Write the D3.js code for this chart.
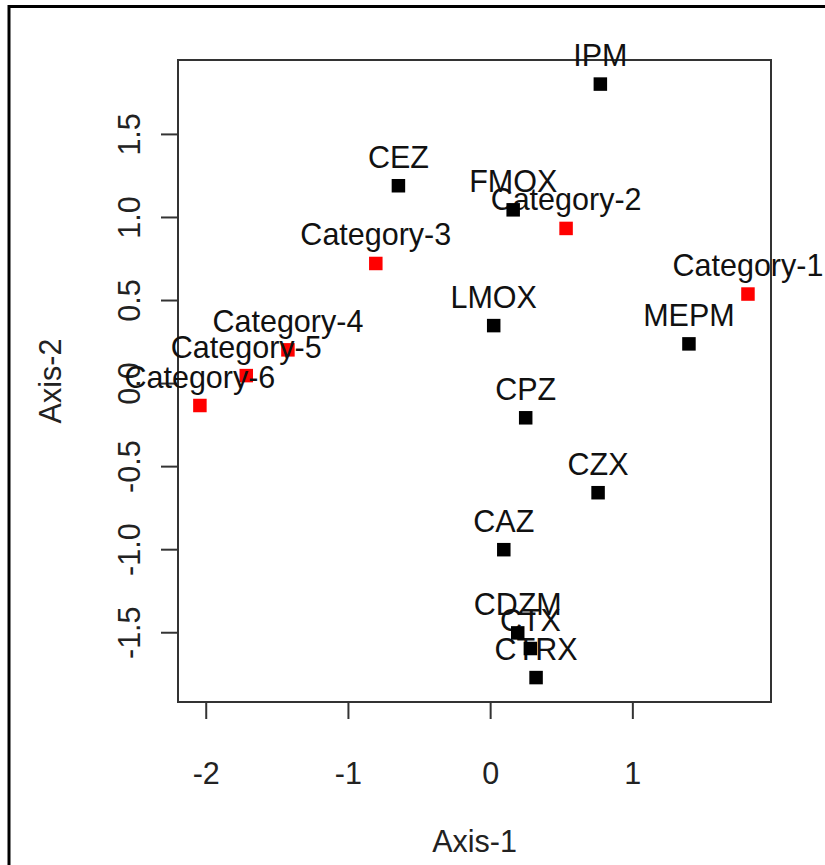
<!DOCTYPE html>
<html>
  <head>
    <meta charset="utf-8">
    <title>Ordination plot</title>
    <script type="text/javascript" src="https://cdn.jsdelivr.net/npm/d3@7"></script>
    <style type="text/css">
      body { margin: 0; background: white; }
      text { font-family: 'Liberation Sans', Arial, sans-serif; }
    </style>
  </head>
  <body>
    <script type="text/javascript">
      // black points (variables)
      var siteNames = ['IPM', 'CEZ', 'FMOX', 'LMOX', 'MEPM', 'CPZ', 'CZX', 'CAZ', 'CDZM', 'CTX', 'CTRX'];
      var siteX = [0.775, -0.645, 0.162, 0.025, 1.398, 0.250, 0.759, 0.096, 0.194, 0.283, 0.323];
      var siteY = [1.800, 1.188, 1.043, 0.346, 0.236, -0.209, -0.660, -1.003, -1.504, -1.598, -1.773];

      // red points (categories)
      var catNames = ['Category-1', 'Category-2', 'Category-3', 'Category-4', 'Category-5', 'Category-6'];
      var catX = [1.813, 0.534, -0.804, -1.422, -1.715, -2.041];
      var catY = [0.536, 0.931, 0.720, 0.200, 0.045, -0.135];

      var xTicks = [-2, -1, 0, 1];
      var yTicks = [-1.5, -1.0, -0.5, 0.0, 0.5, 1.0, 1.5];

      var w = 825;
      var h = 865;
      var box = {left: 178, right: 771, top: 60, bottom: 702};
      var fs = 30.5;
      var sq = 13.5;

      var sites = siteNames.map(function(n, i) { return {name: n, x: siteX[i], y: siteY[i]}; });
      var cats = catNames.map(function(n, i) { return {name: n, x: catX[i], y: catY[i]}; });

      var x = d3.scaleLinear().domain([-2.195, 1.975]).range([box.left, box.right]);
      var y = d3.scaleLinear().domain([-1.92, 1.945]).range([box.bottom, box.top]);

      var svg = d3.select('body')
                  .append('svg')
                  .attr('width', w)
                  .attr('height', h);

      // outer frame (only top and left edges visible)
      svg.append('path')
        .attr('d', 'M9,' + h + 'V6.5H' + w)
        .attr('fill', 'none')
        .attr('stroke', 'black')
        .attr('stroke-width', 3);

      // plot box
      svg.append('rect')
        .attr('x', box.left)
        .attr('y', box.top)
        .attr('width', box.right - box.left)
        .attr('height', box.bottom - box.top)
        .attr('fill', 'none')
        .attr('stroke', '#333')
        .attr('stroke-width', 2);

      // x axis
      var xAxis = d3.axisBottom(x)
        .tickValues(xTicks)
        .tickSize(17)
        .tickPadding(43)
        .tickFormat(function(d) { return String(d); });
      var gx = svg.append('g')
        .attr('transform', 'translate(0,' + box.bottom + ')')
        .call(xAxis);
      gx.select('.domain').remove();
      gx.selectAll('.tick line').attr('stroke', '#333').attr('stroke-width', 2);
      gx.selectAll('.tick text')
        .attr('font-size', fs)
        .attr('font-family', "'Liberation Sans', Arial, sans-serif")
        .attr('fill', '#222');

      // y axis
      var yAxis = d3.axisLeft(y)
        .tickValues(yTicks)
        .tickSize(17)
        .tickFormat(function(d) { return d.toFixed(1); });
      var gy = svg.append('g')
        .attr('transform', 'translate(' + box.left + ',0)')
        .call(yAxis);
      gy.select('.domain').remove();
      gy.selectAll('.tick line').attr('stroke', '#333').attr('stroke-width', 2);
      gy.selectAll('.tick text')
        .attr('x', null)
        .attr('dy', null)
        .attr('transform', 'translate(-38,0) rotate(-90)')
        .attr('text-anchor', 'middle')
        .attr('font-size', fs)
        .attr('font-family', "'Liberation Sans', Arial, sans-serif")
        .attr('fill', '#222');

      // axis titles
      svg.append('text')
        .attr('x', (box.left + box.right) / 2)
        .attr('y', 852)
        .attr('text-anchor', 'middle')
        .attr('font-size', fs)
        .attr('fill', '#222')
        .text('Axis-1');

      svg.append('text')
        .attr('transform', 'translate(61,' + (box.top + box.bottom) / 2 + ') rotate(-90)')
        .attr('text-anchor', 'middle')
        .attr('font-size', fs)
        .attr('fill', '#222')
        .text('Axis-2');

      // red squares
      svg.selectAll('rect.cat')
        .data(cats)
        .enter()
        .append('rect')
        .attr('class', 'cat')
        .attr('x', function(d) { return x(d.x) - sq / 2; })
        .attr('y', function(d) { return y(d.y) - sq / 2; })
        .attr('width', sq)
        .attr('height', sq)
        .attr('fill', 'red');

      // labels (drawn above each point, as in R's pos = 3)
      svg.selectAll('text.lab')
        .data(cats.concat(sites))
        .enter()
        .append('text')
        .attr('class', 'lab')
        .attr('x', function(d) { return x(d.x); })
        .attr('y', function(d) { return y(d.y) - 18; })
        .attr('text-anchor', 'middle')
        .attr('font-size', fs)
        .attr('fill', '#111')
        .text(function(d) { return d.name; });

      // black squares
      svg.selectAll('rect.site')
        .data(sites)
        .enter()
        .append('rect')
        .attr('class', 'site')
        .attr('x', function(d) { return x(d.x) - sq / 2; })
        .attr('y', function(d) { return y(d.y) - sq / 2; })
        .attr('width', sq)
        .attr('height', sq)
        .attr('fill', 'black');
    </script>
  </body>
</html>
